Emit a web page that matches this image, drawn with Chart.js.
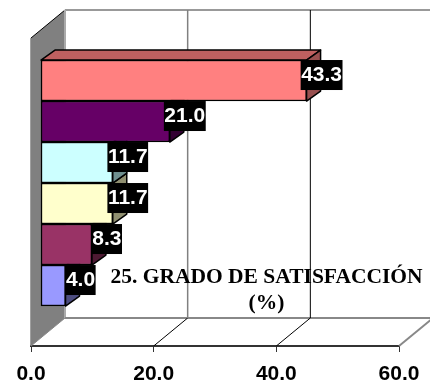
<!DOCTYPE html>
<html>
<head>
<meta charset="utf-8">
<style>
  html, body { margin: 0; padding: 0; background: #fff; }
  canvas { display: block; }
</style>
<script src="https://cdn.jsdelivr.net/npm/chart.js@4/dist/chart.umd.min.js"></script>
</head>
<body>
<canvas id="chart" width="430" height="381"></canvas>
<script>
const valores = [43.3, 21.0, 11.7, 11.7, 8.3, 4.0];
const tituloLineas = ['25. GRADO DE SATISFACCIÓN', '(%)'];
const ejeTicks = [0, 20, 40, 60];

const coloresFrente = ['#FF8080', '#660066', '#CCFFFF', '#FFFFCC', '#993366', '#9999FF'];
const coloresTapa = ['#BF6060', '#4D004D', '#99BFBF', '#BFBF99', '#732649', '#7373BF'];
const coloresLado = ['#995050', '#330033', '#6F9090', '#8F8F70', '#4D1A33', '#4D4D80'];

// profundidad del piso/paredes y de las barras, en pixeles
const fondo = { dx: 34, dy: -28 };
const barra = { dx: 14, dy: -10 };
const margenBarra = 10 / (368 / 60);

function poligono(ctx, puntos, relleno, borde, grosor) {
    ctx.beginPath();
    puntos.forEach((p, i) => i ? ctx.lineTo(p[0], p[1]) : ctx.moveTo(p[0], p[1]));
    ctx.closePath();
    if (relleno) {
        ctx.fillStyle = relleno;
        ctx.fill();
    }
    if (borde) {
        ctx.strokeStyle = borde;
        ctx.lineWidth = grosor;
        ctx.stroke();
    }
}

function linea(ctx, x1, y1, x2, y2, color, grosor) {
    ctx.beginPath();
    ctx.moveTo(x1, y1);
    ctx.lineTo(x2, y2);
    ctx.strokeStyle = color;
    ctx.lineWidth = grosor;
    ctx.stroke();
}

// paredes, piso y lineas de fondo
const paredes = {
    id: 'paredes',
    beforeDatasetsDraw(chart) {
        const { ctx, chartArea: a, scales } = chart;
        const x0 = a.left + fondo.dx;
        const yTecho = a.top + fondo.dy;
        const yPiso = a.bottom + fondo.dy;
        ctx.save();
        poligono(ctx, [[a.left, a.top], [x0, yTecho], [x0, yPiso], [a.left, a.bottom]], '#808080');
        linea(ctx, a.left, a.top, x0, yTecho, '#000', 1);
        linea(ctx, a.left, a.top, a.left, a.bottom, '#808080', 1.5);
        linea(ctx, x0, yTecho, 430, yTecho, '#999', 2);
        linea(ctx, x0, yTecho, x0, yPiso, '#aaa', 2);
        linea(ctx, x0, yPiso, 430, yPiso, '#888', 2);
        linea(ctx, a.left, a.bottom, x0, yPiso, '#888', 1);
        ejeTicks.forEach(t => {
            const x = scales.x.getPixelForValue(t);
            if (t === 0) return;
            const color = t === 60 ? '#888' : '#000';
            linea(ctx, x, a.bottom, x + fondo.dx, yPiso, color, t === 60 ? 2 : 1);
            if (t === 20) linea(ctx, x + fondo.dx, yTecho, x + fondo.dx, yPiso, '#808080', 1.5);
            if (t === 40) linea(ctx, x + fondo.dx, yTecho, x + fondo.dx, yPiso, '#000', 1);
        });
        ctx.restore();
    }
};

// tapas y costados de cada barra, de abajo hacia arriba
const caras = {
    id: 'caras',
    beforeDatasetsDraw(chart) {
        const { ctx } = chart;
        const barras = chart.getDatasetMeta(0).data;
        ctx.save();
        ctx.lineJoin = 'round';
        for (let i = barras.length - 1; i >= 0; i--) {
            const b = barras[i];
            const arriba = b.y - b.height / 2;
            const abajo = b.y + b.height / 2;
            if (i === 0) {
                poligono(ctx, [[b.base, arriba], [b.base + barra.dx, arriba + barra.dy],
                    [b.x + barra.dx, arriba + barra.dy], [b.x, arriba]], coloresTapa[i], '#000', 1.5);
            }
            poligono(ctx, [[b.x, arriba], [b.x + barra.dx, arriba + barra.dy],
                [b.x + barra.dx, abajo + barra.dy], [b.x, abajo]], coloresLado[i], '#000', 1.5);
        }
        ctx.restore();
    }
};

// etiquetas de valor y titulo, sobre las barras
const etiquetas = {
    id: 'etiquetas',
    afterDatasetsDraw(chart) {
        const { ctx } = chart;
        ctx.save();
        ctx.font = 'bold 21px "Liberation Sans"';
        ctx.textAlign = 'center';
        ctx.textBaseline = 'middle';
        chart.getDatasetMeta(0).data.forEach((b, i) => {
            const texto = valores[i].toFixed(1);
            const ancho = ctx.measureText(texto).width + 1;
            const cx = b.x + 15;
            const arriba = b.y - b.height / 2;
            ctx.fillStyle = '#000';
            ctx.fillRect(cx - ancho / 2, arriba, ancho, 30);
            ctx.fillStyle = '#fff';
            ctx.fillText(texto, cx, arriba + 15.5);
        });
        ctx.fillStyle = '#000';
        ctx.font = 'bold 21.5px "Liberation Serif"';
        tituloLineas.forEach((t, i) => ctx.fillText(t, 266.5, 277 + i * 26));
        ctx.restore();
    }
};

new Chart(document.getElementById('chart'), {
    type: 'bar',
    data: {
        datasets: [{
            data: valores.map((v, i) => ({ x: v, y: i })),
            xAxisID: 'xBarras',
            yAxisID: 'y',
            backgroundColor: coloresFrente,
            borderColor: '#000',
            borderWidth: 1.5,
            borderSkipped: false,
            barThickness: 41
        }]
    },
    options: {
        indexAxis: 'y',
        responsive: false,
        animation: false,
        layout: { padding: { left: 31, right: 31, top: 38, bottom: 0 } },
        plugins: { legend: { display: false }, tooltip: { enabled: false } },
        scales: {
            x: {
                type: 'linear',
                position: 'bottom',
                min: 0,
                max: 60,
                grid: { drawOnChartArea: false, color: '#333', tickLength: 6, tickWidth: 1 },
                border: { display: true, color: '#333', width: 2 },
                afterFit(scale) { scale.height = 35; },
                afterBuildTicks(scale) { scale.ticks = ejeTicks.map(v => ({ value: v })); },
                ticks: {
                    color: '#000',
                    padding: 10,
                    maxRotation: 0,
                    font: { family: '"Liberation Sans"', weight: 'bold', size: 21 },
                    callback: v => v.toFixed(1)
                }
            },
            xBarras: {
                type: 'linear',
                display: false,
                position: 'bottom',
                min: -margenBarra,
                max: 60 - margenBarra
            },
            y: {
                type: 'linear',
                display: false,
                reverse: true,
                offset: false,
                bounds: 'data',
                min: -1.037,
                max: 6.475
            }
        }
    },
    plugins: [paredes, caras, etiquetas]
});
</script>
</body>
</html>
